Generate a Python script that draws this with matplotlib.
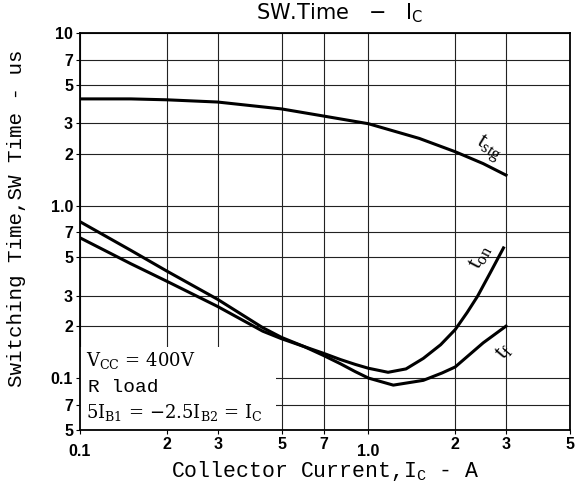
import numpy as np
import matplotlib
matplotlib.use('Agg')
import matplotlib.pyplot as plt
from matplotlib.ticker import FixedLocator, FixedFormatter
from matplotlib.patches import Rectangle

# curves (Ic in A, time in us)
tstgX = [0.1, 0.15, 0.2, 0.3, 0.5, 0.7, 1.0, 1.5, 2.0, 2.5, 3.0]
tstgY = [4.15, 4.15, 4.1, 3.98, 3.63, 3.3, 2.98, 2.45, 2.05, 1.75, 1.5]

tfX = [0.1, 0.15, 0.2, 0.3, 0.43, 0.5, 0.6, 0.7, 0.8, 0.9, 1.0, 1.22, 1.55, 1.8, 2.0, 2.5, 3.0]
tfY = [0.806, 0.55, 0.417, 0.286, 0.196, 0.172, 0.152, 0.135, 0.121, 0.109, 0.1, 0.091, 0.097, 0.107, 0.116, 0.16, 0.2]

tonX = [0.1, 0.15, 0.2, 0.3, 0.43, 0.5, 0.6, 0.7, 0.8, 0.9, 1.0, 1.17, 1.35, 1.55, 1.78, 2.0, 2.2, 2.39, 2.65, 2.94]
tonY = [0.65, 0.46, 0.364, 0.26, 0.187, 0.169, 0.152, 0.139, 0.128, 0.12, 0.114, 0.108, 0.113, 0.13, 0.156, 0.191, 0.24, 0.298, 0.41, 0.568]

xTicks = [0.1, 0.2, 0.3, 0.5, 0.7, 1.0, 2, 3, 5]
xTickLabels = ['', '2', '3', '5', '7', '', '2', '3', '5']
xDecadeTicks = [0.1, 1.0]
xDecadeLabels = ['0.1', '1.0']
yTicks = [0.05, 0.07, 0.1, 0.2, 0.3, 0.5, 0.7, 1.0, 2, 3, 5, 7, 10]
yTickLabels = ['5', '7', '0.1', '2', '3', '5', '7', '1.0', '2', '3', '5', '7', '10']

mono = 'Liberation Mono'
serif = 'DejaVu Serif'

fig = plt.figure(figsize=(5.82, 4.95), dpi=100)
fig.patch.set_facecolor('w')
ax = fig.add_axes([80/582, 1-430/495, 490/582, 397/495])
ax.set_xscale('log')
ax.set_yscale('log')
ax.set_xlim(0.1, 5)
ax.set_ylim(0.05, 10)

ax.xaxis.remove_overlapping_locs = False
ax.xaxis.set_major_locator(FixedLocator(xTicks))
ax.xaxis.set_major_formatter(FixedFormatter(xTickLabels))
ax.xaxis.set_minor_locator(FixedLocator(xDecadeTicks))
ax.xaxis.set_minor_formatter(FixedFormatter(xDecadeLabels))
ax.yaxis.set_major_locator(FixedLocator(yTicks))
ax.yaxis.set_major_formatter(FixedFormatter(yTickLabels))
ax.yaxis.set_minor_locator(FixedLocator([]))

ax.tick_params(which='major', length=3, width=0.8, pad=2, labelsize=11.5)
ax.tick_params(axis='x', which='minor', length=0, pad=10, labelsize=11.5)
for lbl in ax.get_xticklabels(which='both') + ax.get_yticklabels():
    lbl.set_fontfamily('Liberation Sans')
    lbl.set_fontweight('bold')

ax.grid(which='major', color='#222222', linewidth=0.8)
for s in ax.spines.values():
    s.set_linewidth(1.3)

# white patch behind the conditions text
ax.add_patch(Rectangle((0, 0), 0.4, 0.21, transform=ax.transAxes,
                       facecolor='w', edgecolor='none', zorder=2))

ax.plot(tstgX, tstgY, color='k', lw=2.2, zorder=3)
ax.plot(tfX, tfY, color='k', lw=2.2, zorder=3)
ax.plot(tonX, tonY, color='k', lw=2.2, zorder=3)

ax.text(2.62, 2.15, r'$\mathregular{t_{stg}}$', family='Liberation Serif', fontsize=17,
        rotation=-32, ha='center', va='center', zorder=4)
ax.text(2.45, 0.5, r'$\mathregular{t_{on}}$', family='Liberation Serif', fontsize=17,
        rotation=62, ha='center', va='center', zorder=4)
ax.text(2.95, 0.143, r'$\mathregular{t_{f}}$', family='Liberation Serif', fontsize=17,
        rotation=50, ha='center', va='center', zorder=4)

ax.text(0.012, 0.175, r'V$_\mathregular{CC}$ = 400V', transform=ax.transAxes,
        family=serif, fontsize=13, va='center', zorder=4)
ax.text(0.016, 0.108, 'R load', transform=ax.transAxes,
        family=mono, fontsize=14, va='center', zorder=4)
ax.text(0.012, 0.045, r'5I$_\mathregular{B1}$ = $-$2.5I$_\mathregular{B2}$ = I$_\mathregular{C}$',
        transform=ax.transAxes, family=serif, fontsize=13, va='center', zorder=4)

fig.text(340/582, 1-13/495, r'SW.Time   $-$   I$_\mathregular{C}$', family='DejaVu Sans',
         fontsize=15, ha='center', va='center')
ax.set_xlabel(r'Collector Current,I$_\mathregular{C}$ - A', family=mono, fontsize=15.5)
ax.xaxis.set_label_coords(0.5, -0.072)
ax.set_ylabel('Switching Time,SW Time - us', family=mono, fontsize=15)
ax.yaxis.set_label_coords(-0.11, 0.534)

plt.savefig('out.png', dpi=100)
